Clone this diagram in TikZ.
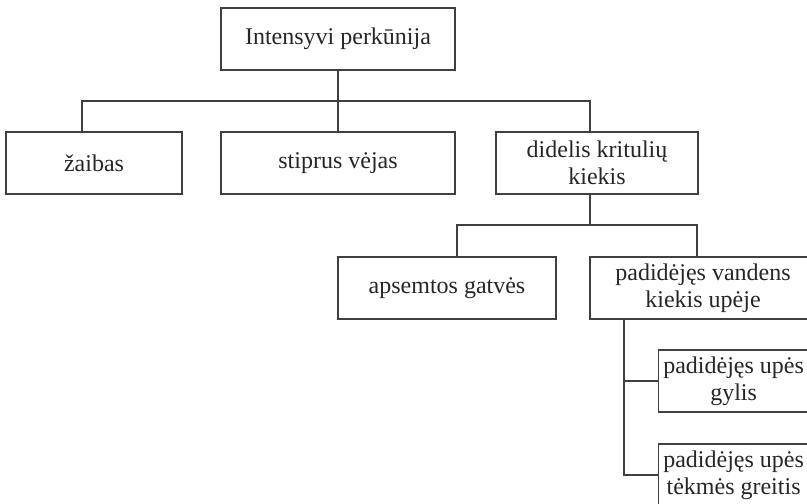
\documentclass[tikz,border=0pt]{standalone}
\usepackage{fontspec}
\setmainfont{Liberation Serif}
\usetikzlibrary{calc}

\begin{document}
\begin{tikzpicture}[x=1pt,y=-1pt,
  box/.style={draw=black!75, line width=1.2pt, minimum height=62pt, inner sep=0pt,
    align=center, text=black!85, font=\fontsize{24}{27}\selectfont},
  link/.style={draw=black!75, line width=1.2pt}]
\path[use as bounding box, clip] (0,0) rectangle (807,504);

% top level
\node[box, minimum width=234pt] (storm) at (338,39) {Intensyvi perkūnija};

% second level
\node[box, minimum width=176pt] (lightning) at (94,163) {žaibas};
\node[box, minimum width=234pt] (wind) at (338,163) {stiprus vėjas};
\node[box, minimum width=202pt] (rain) at (597,163) {didelis kritulių\\kiekis};

% third level
\node[box, minimum width=218pt] (streets) at (447,288) {apsemtos gatvės};
\node[box, minimum width=226pt] (river) at (703,288) {padidėjęs vandens\\kiekis upėje};

% fourth level
\node[box, anchor=west, minimum width=150pt] (depth) at (658,381) {padidėjęs upės\\gylis};
\node[box, anchor=west, minimum width=150pt] (speed) at (658,475) {padidėjęs upės\\tėkmės greitis};

% connectors
\coordinate (bus1) at (338,101);
\draw[link] (storm) -- (bus1);
\draw[link] ([xshift=-12pt]lightning.north) |- (bus1) -| ([xshift=-7pt]rain.north);
\draw[link] (bus1) -- (wind);

\coordinate (bus2) at (590,225);
\draw[link] ([xshift=-7pt]rain.south) -- (bus2);
\draw[link] ([xshift=10pt]streets.north) |- (bus2) -| ([xshift=-6pt]river.north);

\coordinate (trunk) at ([xshift=-79pt]river.south);
\draw[link] (trunk) |- (depth.west);
\draw[link] (trunk) |- (speed.west);

\end{tikzpicture}
\end{document}
